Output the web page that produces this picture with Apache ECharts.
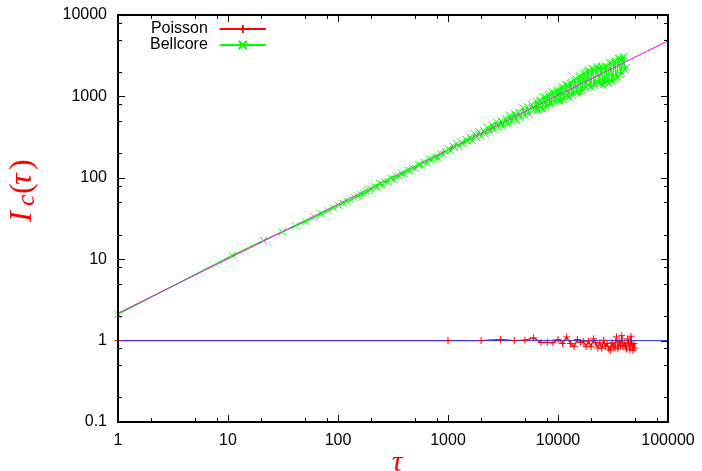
<!DOCTYPE html>
<html>
<head>
<meta charset="utf-8">
<script src="https://cdn.jsdelivr.net/npm/echarts@6/dist/echarts.min.js"></script>
<style>
  html, body { margin: 0; padding: 0; background: #fff; }
  #main { width: 702px; height: 471px; }
</style>
</head>
<body>
<div id="main"></div>
<script>
// Poisson trace (tau, Ic)
var poissonTau = [1, 1000, 2000, 3000, 4000, 5000, 6000, 7000, 8000, 9000, 10000,
  11000, 12000, 13000, 14000, 15000, 16000, 17000, 18000, 19000, 20000,
  21000, 22000, 23000, 24000, 25000, 26000, 27000, 28000, 29000, 30000,
  31000, 32000, 33000, 34000, 35000, 36000, 37000, 38000, 39000, 40000,
  41000, 42000, 43000, 44000, 45000, 46000, 47000, 48000, 49000, 50000];
var poissonVal = [1.0, 1.0, 1.0, 1.03, 1.0, 1.01, 1.08, 0.95, 0.95, 0.94, 1.03,
  0.92, 1.11, 0.92, 0.85, 1.03, 0.95, 0.97, 0.85, 0.99, 0.84,
  1.05, 0.94, 0.81, 0.94, 0.81, 1.01, 0.85, 0.92, 0.79, 0.76,
  0.94, 0.85, 0.81, 1.11, 0.79, 0.98, 0.87, 1.15, 0.84, 0.94,
  0.85, 0.79, 1.05, 0.94, 0.77, 1.13, 0.89, 0.76, 0.92, 0.81];

// Bellcore trace (tau, Ic)
var bellTau = [1, 11, 21, 31, 41, 51, 61, 71, 81, 91, 101, 111, 121, 131, 141, 151, 161, 171, 181, 191, 201,
  214, 226, 240, 254, 269, 285, 302, 320, 339, 359, 380, 403, 427, 452, 479, 507, 537, 569, 603, 638, 676, 716, 759, 804, 851, 902, 955,
  1001, 1051, 1101, 1151, 1201, 1261, 1321, 1381, 1441, 1511,
  1581, 1661, 1741, 1821, 1901, 2001, 2091, 2191, 2291, 2401,
  2511, 2631, 2751, 2881, 3021, 3161, 3311, 3471, 3631, 3801,
  3981, 4171, 4361, 4571, 4781, 5011, 5251, 5491, 5751, 6021,
  6311, 6461, 6611, 6761, 6921, 7081, 7241, 7411, 7581, 7761, 7941, 8131, 8321, 8511, 8711, 8911, 9121, 9331, 9551, 9771,
  10001, 10231, 10471, 10711, 10961, 11221, 11481, 11751, 12021, 12301, 12591, 12881, 13181, 13491, 13801, 14121, 14451, 14791, 15131, 15491,
  15851, 16221, 16591, 16981, 17381, 17781, 18201, 18621, 19051, 19501, 19951, 20421, 20891, 21381, 21881, 22391, 22911, 23451, 23991, 24551,
  25121, 25711, 26301, 26921, 27541, 28181, 28841, 29511, 30201, 30901, 31621, 32351, 33111, 33881, 34671, 35481, 36311, 37161, 38021, 38911,
  39811, 40741, 41691];
var bellVal = [2.1, 11.2, 17.0, 21.6, 25.6, 29.0, 32.8, 36.2, 39.5, 42.6, 45.8, 48.6, 51.9, 54.0, 57.3, 59.6, 62.8, 64.6, 67.9, 69.8, 72.9,
  77.5, 77.2, 84.9, 82.2, 89.1, 90.1, 99.0, 95.9, 105.5, 105.1, 112.3, 111.9, 124.8, 122.6, 131.0, 130.6, 145.6, 143.0, 155.0, 152.3, 169.8, 166.8, 178.3, 177.6, 198.1, 194.6, 211.0,
  227, 215, 248, 235, 264, 243, 273, 259, 299, 283,
  318, 284, 348, 311, 370, 321, 382, 342, 418, 374,
  445, 387, 487, 411, 503, 425, 535, 465, 586, 495,
  623, 511, 644, 544, 725, 578, 749, 598, 797, 673,
  872, 685, 676, 888, 902, 708, 699, 971, 986, 732, 765, 1033, 1079, 801, 837, 1130, 1116, 852, 841, 1168,
  1220, 881, 894, 1278, 1335, 911, 979, 1399, 1380, 996, 984, 1445, 1510, 1031, 1076, 1581, 1652, 1096, 1144, 1730,
  1807, 1133, 1184, 1893, 1979, 1240, 1295, 2014, 2105, 1319, 1302, 2205, 2175, 1364, 1425, 2346, 2249, 1450, 1430, 2355,
  2261, 1376, 1480, 2368, 2337, 1505, 1445, 2590, 2630, 1513, 1581, 2677, 2719, 1656, 1729, 2929, 2974, 1864, 1947, 3029,
  3076, 2099, 2255];

// fitted lines (end points)
var poissonFitTau = [1, 100000];
var poissonFitVal = [1, 1];
var bellFitTau = [1, 100000];
var bellFitVal = [2.17, 4820];

// axis ticks
var xDecades = [1, 10, 100, 1000, 10000, 100000];
var yDecades = [0.1, 1, 10, 100, 1000, 10000];
var minorSteps = [2, 5, 8];

function pairs(xs, ys) {
  return xs.map(function (x, i) { return [x, ys[i]]; });
}

var labelFont = { color: "#000", fontFamily: "Liberation Sans", fontSize: 16 };
var tickFmt = function (v) { return String(+Number(v).toPrecision(6)); };
var red = "#ff0000";
var green = "#00ff00";

var plusSym = "path://M5,0L5,10M0,5L10,5";
var crossSym = "path://M0,0L10,10M10,0L0,10";

var labels = [
  {
    type: "text",
    x: 397,
    y: 463,
    style: { text: "τ", font: 'italic 30px "Liberation Serif"', fill: red, align: "center", verticalAlign: "middle" }
  },
  {
    type: "group",
    x: 33,
    y: 222,
    rotation: Math.PI / 2,
    children: [
      { type: "text", x: 0, y: 6, style: { text: "I", font: 'italic 32px "Liberation Serif"', fill: red, align: "left", verticalAlign: "bottom" } },
      { type: "text", x: 16, y: 7, style: { text: "c", font: 'italic 26px "Liberation Serif"', fill: red, align: "left", verticalAlign: "bottom" } },
      { type: "text", x: 28, y: 6, style: { text: "(", font: '32px "Liberation Serif"', fill: red, align: "left", verticalAlign: "bottom" } },
      { type: "text", x: 37, y: 6, style: { text: "τ", font: 'italic 32px "Liberation Serif"', fill: red, align: "left", verticalAlign: "bottom" } },
      { type: "text", x: 52, y: 6, style: { text: ")", font: '32px "Liberation Serif"', fill: red, align: "left", verticalAlign: "bottom" } }
    ]
  }
];

var myChart = echarts.init(document.getElementById("main"));
var option = {
  animation: false,
  grid: { left: 118, right: 34, top: 15, bottom: 49 },
  legend: {
    orient: "vertical",
    left: 150,
    top: 21,
    padding: 0,
    itemGap: 0,
    itemWidth: 46,
    itemHeight: 10,
    align: "right",
    textStyle: { color: "#000", fontFamily: "Liberation Sans", fontSize: 16, padding: [0, 7, 0, 0] },
    data: ["Poisson", "Bellcore"]
  },
  xAxis: {
    type: "log",
    logBase: 10,
    min: xDecades[0],
    max: xDecades[xDecades.length - 1],
    axisLine: { show: true, lineStyle: { color: "#000", width: 2 } },
    axisTick: { show: true, inside: true, length: 7, lineStyle: { color: "#000", width: 1 } },
    axisLabel: Object.assign({ margin: 11, formatter: tickFmt }, labelFont),
    splitLine: { show: false }
  },
  yAxis: {
    type: "log",
    logBase: 10,
    min: yDecades[0],
    max: yDecades[yDecades.length - 1],
    axisLine: { show: true, lineStyle: { color: "#000", width: 2 } },
    axisTick: { show: true, inside: true, length: 7, lineStyle: { color: "#000", width: 1 } },
    axisLabel: Object.assign({ margin: 11, formatter: tickFmt }, labelFont),
    splitLine: { show: false }
  },
  series: [
    {
      name: "Poisson",
      type: "line",
      data: pairs(poissonTau, poissonVal),
      symbol: plusSym,
      symbolSize: 7,
      itemStyle: { color: red, borderColor: red, borderWidth: 1 },
      lineStyle: { color: red, width: 1 }
    },
    {
      name: "Bellcore",
      type: "line",
      data: pairs(bellTau, bellVal),
      symbol: crossSym,
      symbolSize: 7,
      itemStyle: { color: green, borderColor: green, borderWidth: 1 },
      lineStyle: { color: green, width: 1 }
    },
    {
      name: "poisson fit",
      type: "line",
      data: pairs(poissonFitTau, poissonFitVal),
      symbol: "none",
      lineStyle: { color: "#3030ff", width: 1 }
    },
    {
      name: "bellcore fit",
      type: "line",
      data: pairs(bellFitTau, bellFitVal),
      symbol: "none",
      lineStyle: { color: "#ff00ff", width: 1 }
    }
  ]
};
myChart.setOption(option);

// frame, mirrored major ticks (top/right) and minor ticks on all four sides, placed through the axes
var xL = myChart.convertToPixel({ xAxisIndex: 0 }, xDecades[0]);
var xR = myChart.convertToPixel({ xAxisIndex: 0 }, xDecades[xDecades.length - 1]);
var yB = myChart.convertToPixel({ yAxisIndex: 0 }, yDecades[0]);
var yT = myChart.convertToPixel({ yAxisIndex: 0 }, yDecades[yDecades.length - 1]);
var extras = [{
  type: "rect",
  silent: true,
  shape: { x: xL, y: yT, width: xR - xL, height: yB - yT },
  style: { fill: null, stroke: "#000", lineWidth: 2 },
  z: 10
}];
function tick(x1, y1, x2, y2) {
  extras.push({
    type: "line",
    silent: true,
    shape: { x1: x1, y1: y1, x2: x2, y2: y2 },
    style: { stroke: "#000", lineWidth: 1 },
    z: 10
  });
}
xDecades.forEach(function (d, i) {
  var px = Math.round(myChart.convertToPixel({ xAxisIndex: 0 }, d)) + 0.5;
  tick(px, yT, px, yT + 7);
  if (i < xDecades.length - 1) {
    minorSteps.forEach(function (m) {
      var p = Math.round(myChart.convertToPixel({ xAxisIndex: 0 }, d * m)) + 0.5;
      tick(p, yB, p, yB - 4);
      tick(p, yT, p, yT + 4);
    });
  }
});
yDecades.forEach(function (d, i) {
  var py = Math.round(myChart.convertToPixel({ yAxisIndex: 0 }, d)) + 0.5;
  tick(xR, py, xR - 7, py);
  if (i < yDecades.length - 1) {
    minorSteps.forEach(function (m) {
      var p = Math.round(myChart.convertToPixel({ yAxisIndex: 0 }, d * m)) + 0.5;
      tick(xL, p, xL + 4, p);
      tick(xR, p, xR - 4, p);
    });
  }
});

// connecting polylines of the two traces, placed through the series' coordinate system
function joinLine(seriesIndex, xs, ys, color) {
  var pts = xs.map(function (x, i) {
    return myChart.convertToPixel({ seriesIndex: seriesIndex }, [x, ys[i]]);
  });
  extras.push({
    type: "polyline",
    silent: true,
    shape: { points: pts },
    style: { stroke: color, lineWidth: 1, fill: null },
    z: 1
  });
}
joinLine(0, poissonTau, poissonVal, red);
joinLine(1, bellTau, bellVal, green);

myChart.setOption({ graphic: labels.concat(extras) });
</script>
</body>
</html>
